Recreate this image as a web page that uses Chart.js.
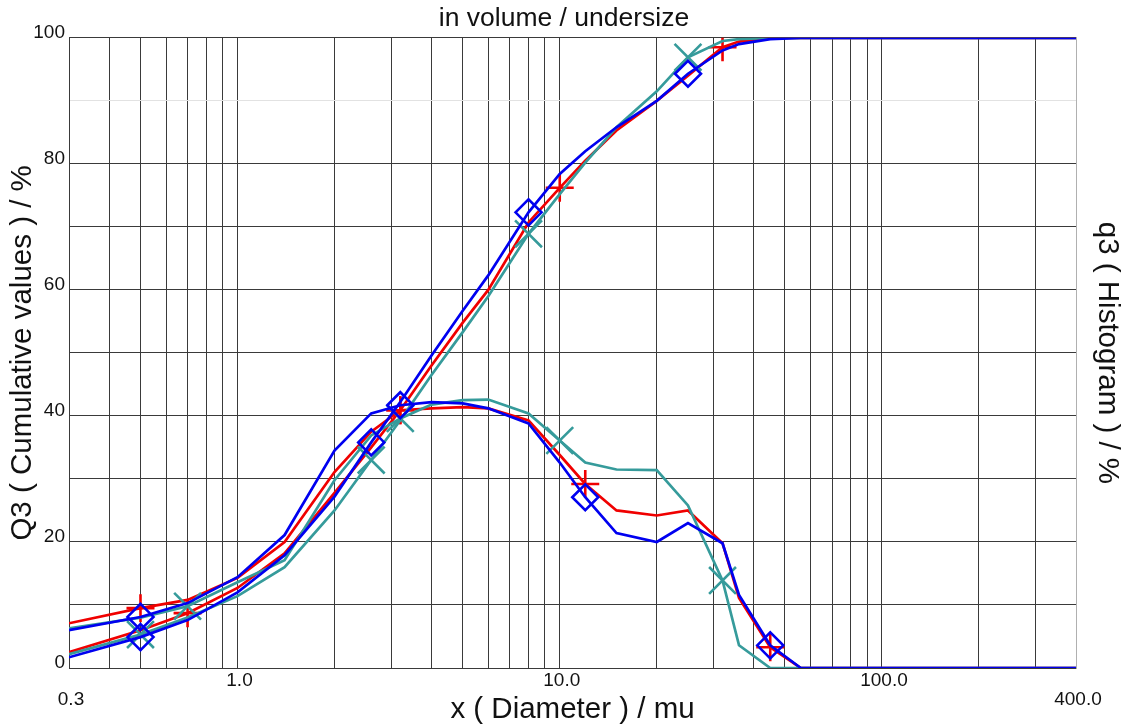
<!DOCTYPE html>
<html>
<head>
<meta charset="utf-8">
<script src="https://cdn.jsdelivr.net/npm/chart.js@4/dist/chart.umd.min.js"></script>
<style>
  html, body { margin: 0; padding: 0; background: #fff; }
  #wrap { width: 1128px; height: 728px; }
</style>
</head>
<body>
<div id="wrap"><canvas id="myChart" width="1128" height="728"></canvas></div>
<script>
// particle size classes (mu)
const sizes = [0.3, 0.5, 0.7, 1.0, 1.4, 2.0, 2.6, 3.2, 4.0, 5.0, 6.0, 8.0, 10, 12, 15, 20, 25, 32, 36, 45, 56, 400];

// Q3 cumulative values (%)
const redQ3  = [2.5, 6.0, 8.7, 12.7, 18.2, 27.8, 35.0, 40.9, 48.0, 54.8, 60.0, 70.7, 76.2, 80.5, 85.3, 90.0, 94.0, 98.5, 99.4, 100, 100, 100];
const tealQ3 = [2.2, 5.3, 8.0, 11.4, 16.0, 25.0, 33.0, 39.3, 46.5, 53.3, 59.0, 68.9, 75.2, 80.2, 85.8, 91.5, 96.9, 99.5, 99.8, 100, 100, 100];
const blueQ3 = [1.7, 4.9, 7.6, 12.0, 17.9, 27.2, 35.8, 42.2, 49.6, 56.7, 62.3, 72.3, 78.4, 82.0, 85.8, 90.0, 94.3, 98.0, 99.0, 99.8, 100, 100];

// q3 histogram values
const redq3  = [7.1, 9.5, 10.8, 14.3, 20.0, 31.1, 37.5, 40.9, 41.2, 41.4, 41.2, 39.3, 33.8, 29.2, 25.0, 24.2, 25.0, 19.8, 11.1, 3.3, 0, 0];
const tealq3 = [6.3, 8.0, 9.8, 13.6, 17.1, 29.8, 36.9, 39.6, 41.8, 42.5, 42.6, 40.4, 36.1, 32.6, 31.5, 31.4, 25.8, 13.9, 3.6, 0, 0, 0];
const blueq3 = [6.0, 8.1, 10.3, 14.4, 21.1, 34.5, 40.4, 41.7, 42.2, 42.0, 41.2, 38.8, 32.6, 27.1, 21.4, 20.0, 23.0, 19.8, 11.6, 3.6, 0, 0];

// axis labels
const xLabels = [0.3, 1, 10, 100, 400];
const yLabels = [0, 20, 40, 60, 80, 100];

const RED = '#f00000';
const TEAL = '#369b9b';
const BLUE = '#0000f0';
const FONT = 'Liberation Sans, Arial, sans-serif';

function series(vals, color, style, size, marks, order) {
    return {
        data: sizes.map((x, i) => ({x: x, y: vals[i]})),
        borderColor: color,
        borderWidth: 2.7,
        backgroundColor: 'transparent',
        pointBackgroundColor: 'transparent',
        pointBorderColor: color,
        pointBorderWidth: 2.6,
        pointStyle: style,
        pointRadius: ctx => marks.includes(sizes[ctx.dataIndex]) ? size : 0,
        pointHoverRadius: 0,
        tension: 0,
        fill: false,
        order: order
    };
}

// grid positions for the log axis
const xGrid = [];
for (let d = 0.1; d <= 100; d *= 10) {
    for (let m = 1; m <= 9; m++) {
        const v = +(m * d).toPrecision(3);
        if (v >= 0.3 && v <= 400) xGrid.push(v);
    }
}
xGrid.push(200, 300, 400);
const xGridClean = [...new Set(xGrid)].sort((a, b) => a - b);

const ctx = document.getElementById('myChart').getContext('2d');
new Chart(ctx, {
    type: 'line',
    data: {
        datasets: [
            series(redQ3, RED, 'cross', 14, [0.7, 3.2, 10, 32], 3),
            series(redq3, RED, 'cross', 14, [0.5, 3.2, 12, 45], 3),
            series(tealQ3, TEAL, 'crossRot', 19, [0.5, 2.6, 8, 25], 2),
            series(tealq3, TEAL, 'crossRot', 19, [0.7, 3.2, 10, 32], 2),
            series(blueQ3, BLUE, 'rectRot', 13, [0.5, 2.6, 8, 25], 1),
            series(blueq3, BLUE, 'rectRot', 13, [0.5, 3.2, 12, 45], 1)
        ]
    },
    options: {
        responsive: false,
        animation: false,
        layout: { padding: 0 },
        plugins: {
            legend: { display: false },
            tooltip: { enabled: false },
            title: {
                display: true,
                text: 'in volume / undersize',
                color: '#111',
                font: { family: FONT, size: 26.5, weight: 'normal' },
                padding: { top: 3, bottom: 3 }
            }
        },
        scales: {
            x: {
                type: 'logarithmic',
                min: 0.3,
                max: 400,
                afterBuildTicks: axis => { axis.ticks = xGridClean.map(v => ({value: v})); },
                afterFit: axis => { axis.height = 60; },
                ticks: {
                    autoSkip: false,
                    maxRotation: 0,
                    padding: 3,
                    labelOffset: 2,
                    color: '#111',
                    font: { family: FONT, size: 19, lineHeight: 1.0 },
                    callback: function(value) {
                        if (!xLabels.includes(value)) return '';
                        const txt = value.toFixed(1);
                        return (value === 0.3 || value === 400) ? ['', txt] : txt;
                    }
                },
                grid: {
                    drawTicks: false,
                    lineWidth: 1,
                    color: c => (c.tick && c.tick.value === 400) ? '#b0b0b0' : '#3a3a3a'
                },
                border: { color: '#3a3a3a' },
                title: {
                    display: true,
                    text: 'x ( Diameter ) / mu',
                    color: '#111',
                    font: { family: FONT, size: 29.5 },
                    padding: { top: 0, bottom: 0 }
                }
            },
            y: {
                type: 'linear',
                position: 'left',
                min: 0,
                max: 100,
                afterFit: axis => { axis.width = 69; },
                ticks: {
                    stepSize: 10,
                    padding: 4,
                    labelOffset: -5,
                    color: '#111',
                    font: { family: FONT, size: 19 },
                    callback: v => yLabels.includes(v) ? String(v) : ''
                },
                grid: {
                    drawTicks: false,
                    lineWidth: 1,
                    color: c => (c.tick && c.tick.value === 90) ? '#e2e2e2' : '#3a3a3a'
                },
                border: { color: '#3a3a3a' },
                title: {
                    display: true,
                    text: 'Q3 ( Cumulative values ) / %',
                    color: '#111',
                    font: { family: FONT, size: 29.5 },
                    padding: { top: 5, bottom: 0 }
                }
            },
            y2: {
                type: 'linear',
                position: 'right',
                min: 0,
                max: 100,
                afterFit: axis => { axis.width = 52; },
                ticks: { display: false },
                grid: { display: false, drawTicks: false },
                border: { display: true, color: '#b0b0b0' },
                title: {
                    display: true,
                    text: 'q3 ( Histogram ) / %',
                    color: '#111',
                    font: { family: FONT, size: 29.5 },
                    padding: { top: 3, bottom: 0 }
                }
            }
        }
    }
});
</script>
</body>
</html>
